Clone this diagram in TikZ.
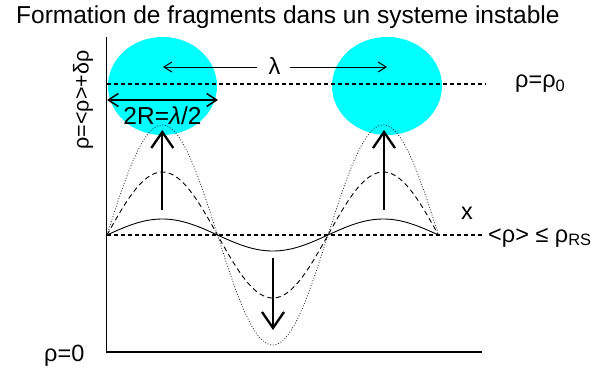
\documentclass[tikz,border=0pt]{standalone}
\usepackage{fontspec}
\setmainfont{Liberation Sans}
\usetikzlibrary{arrows.meta}
\definecolor{blob}{HTML}{00FFFF}
\tikzset{
  lbl/.style={inner sep=0pt, font=\fontsize{23.5}{27}\selectfont},
  axisline/.style={line width=1.8pt},
  refline/.style={line width=1.1pt, dash pattern=on 4pt off 3pt},
  bigarrow/.style={line width=2.3pt, -{Straight Barb[length=16pt,width=22pt,line width=2.3pt]}},
  thinarrow/.style={line width=1pt, -{Straight Barb[length=8pt,width=10pt]}},
  wave1/.style={line width=0.9pt},
  wave2/.style={line width=0.9pt, dash pattern=on 5pt off 3.5pt},
  wave3/.style={line width=0.8pt, black!85, dash pattern=on 0.9pt off 1.8pt},
}
\begin{document}
\begin{tikzpicture}[x=1pt,y=-1pt]
\useasboundingbox (0,0) rectangle (606,370);
% blobs
\fill[blob] (162.5,86) ellipse [x radius=54.5, y radius=49];
\fill[blob] (387,86) ellipse [x radius=55, y radius=49];
% title
\node[inner sep=0pt, anchor=base west, font=\fontsize{24.5}{28}\selectfont] (title) at (16,23) {Formation de fragments dans un systeme instable};
% axes
\coordinate (o) at (106.5,352);
\coordinate (ytop) at (106.5,37);
\coordinate (xend) at (482,352);
\draw[axisline] (ytop) -- (o) -- (xend);
% reference lines
\coordinate (r0a) at (107,84);
\coordinate (r0b) at (486,84);
\draw[refline] (r0a) -- (r0b);
\coordinate (rma) at (107,235);
\coordinate (rmb) at (482,235);
\draw[refline] (rma) -- (rmb);
% waves
\draw[wave1] plot[domain=107:438,samples=150,smooth] (\x,{235-16*sin(1.628959*(\x-107))});
\draw[wave2] plot[domain=107:438,samples=150,smooth] (\x,{235-63*sin(1.628959*(\x-107))});
\draw[wave3] plot[domain=107:438,samples=150,smooth] (\x,{235-110*sin(1.628959*(\x-107))});
% growth arrows
\coordinate (u1a) at (162.3,210);
\coordinate (u1b) at (162.3,130);
\coordinate (u2a) at (384,210);
\coordinate (u2b) at (384,130);
\coordinate (da) at (273,258);
\coordinate (db) at (273,330);
\draw[bigarrow] (u1a) -- (u1b);
\draw[bigarrow] (u2a) -- (u2b);
\draw[bigarrow] (da) -- (db);
% lambda
\node[lbl] (lam) at (274.5,66) {λ};
\coordinate (laml) at (163,67);
\coordinate (lamr) at (387,67);
\draw[thinarrow] (257,67) -- (laml);
\draw[thinarrow] (290,67) -- (lamr);
% 2R
\coordinate (ra) at (107,100);
\coordinate (rb) at (218,100);
\draw[line width=1.5pt, {Straight Barb[length=10pt,width=13pt]}-{Straight Barb[length=10pt,width=13pt]}] (ra) -- (rb);
\node[lbl, font=\fontsize{24.5}{28}\selectfont] (tworr) at (162.5,116) {2R=\textit{λ}/2};
% labels
\node[lbl, anchor=west] (rho0) at (515,84) {ρ=ρ\textsubscript{0}};
\node[lbl] (xl) at (467,213) {x};
\node[lbl, anchor=base west] (rhors) at (488,242) {<ρ>~≤~ρ\textsubscript{RS}};
\node[lbl, anchor=west] (rhozero) at (44,356) {ρ=0};
\node[lbl, rotate=90, font=\fontsize{21.5}{25}\selectfont] (ylab) at (83,100) {ρ=<ρ>+δρ};
\end{tikzpicture}
\end{document}
